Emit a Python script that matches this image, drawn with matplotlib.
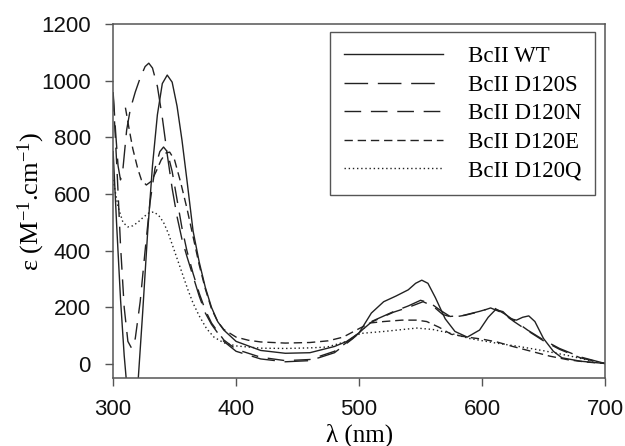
import numpy as np
import matplotlib
matplotlib.use('Agg')
import matplotlib.pyplot as plt

# wavelength (nm) / epsilon (M-1.cm-1)
wl_wt = [300, 303, 306, 309, 312, 316, 320, 324, 328, 332, 336, 340, 344, 348, 352, 356, 360, 365, 370, 375,
         380, 385, 390, 400, 420, 440, 460, 480, 490, 500, 510, 520, 530, 540, 546, 551, 556, 562, 570, 578,
         588, 598, 605, 611, 617, 623, 628, 633, 638, 643, 650, 658, 665, 680, 700]
eps_wt = [750, 480, 230, 30, -120, -200, -80, 180, 460, 700, 880, 990, 1020, 995, 910, 790, 650, 470, 360, 270,
          200, 150, 120, 80, 48, 38, 40, 62, 80, 110, 180, 220, 240, 262, 285, 296, 285, 235, 160, 115,
          95, 120, 165, 192, 185, 160, 155, 165, 170, 150, 90, 45, 22, 10, 2]

wl_s = [300, 302, 304, 306, 308, 311, 314, 318, 322, 326, 329, 332, 336, 340, 344, 348, 352, 356, 360, 365,
        370, 375, 380, 390, 400, 420, 440, 460, 480, 495, 510, 528, 540, 550, 558, 566, 574, 585, 598, 609,
        618, 628, 637, 650, 663, 680, 700]
eps_s = [960, 820, 700, 650, 690, 826, 900, 960, 1010, 1050, 1062, 1045, 980, 870, 740, 620, 520, 440, 380, 310,
         240, 180, 140, 80, 45, 18, 8, 12, 40, 90, 150, 185, 205, 225, 215, 190, 168, 172, 186, 200,
         178, 148, 120, 85, 55, 25, 2]

wl_n = [300, 303, 306, 309, 312, 315, 318, 322, 326, 330, 334, 338, 341, 344, 348, 352, 356, 360, 365, 370,
        375, 380, 390, 400, 420, 440, 460, 480, 495, 510, 528, 540, 552, 560, 568, 576, 586, 598, 607, 616,
        626, 637, 650, 663, 680, 700]
eps_n = [950, 700, 420, 200, 80, 56, 90, 220, 400, 570, 690, 750, 766, 750, 680, 580, 480, 400, 320, 250,
         190, 145, 85, 52, 24, 12, 16, 45, 92, 148, 183, 200, 220, 205, 175, 165, 172, 185, 198, 182,
         150, 118, 82, 52, 22, 2]

wl_e = [310, 313, 316, 320, 323, 327, 331, 335, 339, 343, 346, 350, 355, 360, 365, 370, 375, 380, 385, 390,
        400, 410, 420, 440, 460, 475, 487, 500, 509, 520, 535, 547, 555, 565, 575, 588, 600, 612, 625, 640,
        655, 670, 685, 700]
eps_e = [905, 830, 760, 690, 650, 632, 645, 680, 720, 745, 748, 720, 640, 550, 450, 350, 265, 195, 150, 122,
         95, 84, 78, 74, 76, 82, 95, 125, 145, 150, 155, 155, 150, 130, 105, 95, 88, 78, 62, 45,
         28, 15, 7, 2]

wl_q = [300, 304, 308, 312, 316, 320, 325, 329, 333, 337, 341, 345, 349, 353, 357, 361, 365, 370, 376, 382,
        390, 400, 420, 440, 460, 474, 490, 501, 520, 547, 560, 574, 590, 610, 630, 650, 670, 685, 700]
eps_q = [650, 555, 500, 484, 488, 500, 520, 533, 537, 525, 500, 460, 410, 360, 310, 260, 215, 170, 125, 95,
         75, 64, 56, 55, 57, 60, 80, 108, 115, 127, 122, 109, 90, 75, 62, 47, 30, 15, 2]

plt.rcParams['font.family'] = ['Liberation Sans', 'DejaVu Sans']
plt.rcParams['mathtext.fontset'] = 'custom'
plt.rcParams['mathtext.rm'] = 'Liberation Serif'
plt.rcParams['mathtext.it'] = 'Liberation Serif'

fig = plt.figure(figsize=(6.25, 4.46), dpi=100)
ax = fig.add_axes([0.181, 0.152, 0.787, 0.794])

col = '#222222'
lw = 1.0
ax.plot(wl_wt, eps_wt, color=col, lw=lw, label='BcII WT')
ax.plot(wl_s, eps_s, color=col, lw=lw, dashes=(17, 7), label='BcII D120S')
ax.plot(wl_n, eps_n, color=col, lw=lw, dashes=(12, 7), label='BcII D120N')
ax.plot(wl_e, eps_e, color=col, lw=lw, dashes=(6, 3.5), label='BcII D120E')
ax.plot(wl_q, eps_q, color=col, lw=lw, dashes=(1, 2), label='BcII D120Q')

ax.set_xlim(300, 700)
ax.set_ylim(-50, 1200)
ax.set_xticks(range(300, 701, 100))
ax.set_yticks(range(0, 1201, 200))
ax.tick_params(direction='out', length=6, width=1, labelsize=16, color='#555555', labelcolor='#111111')
ax.tick_params(axis='x', pad=9)
ax.tick_params(axis='y', pad=10)
for s in ax.spines.values():
    s.set_linewidth(1.1)
    s.set_color('#555555')

ax.set_xlabel(r'λ (nm)', fontsize=18, family='Liberation Serif')
ax.set_ylabel(r'ε (M$^{-1}$.cm$^{-1}$)', fontsize=19, family='Liberation Serif')
ax.xaxis.set_label_coords(0.5, -0.128)
ax.yaxis.set_label_coords(-0.134, 0.5)

leg = ax.legend(loc='upper right', bbox_to_anchor=(0.98, 0.977), borderaxespad=0,
                prop={'family': 'Liberation Serif', 'size': 16.5}, fancybox=False,
                edgecolor='#555555', handlelength=4.3, handletextpad=1.1, borderpad=0.6,
                labelspacing=0.33, framealpha=1)
leg.get_frame().set_linewidth(1.0)

fig.savefig('out.png', dpi=100)
